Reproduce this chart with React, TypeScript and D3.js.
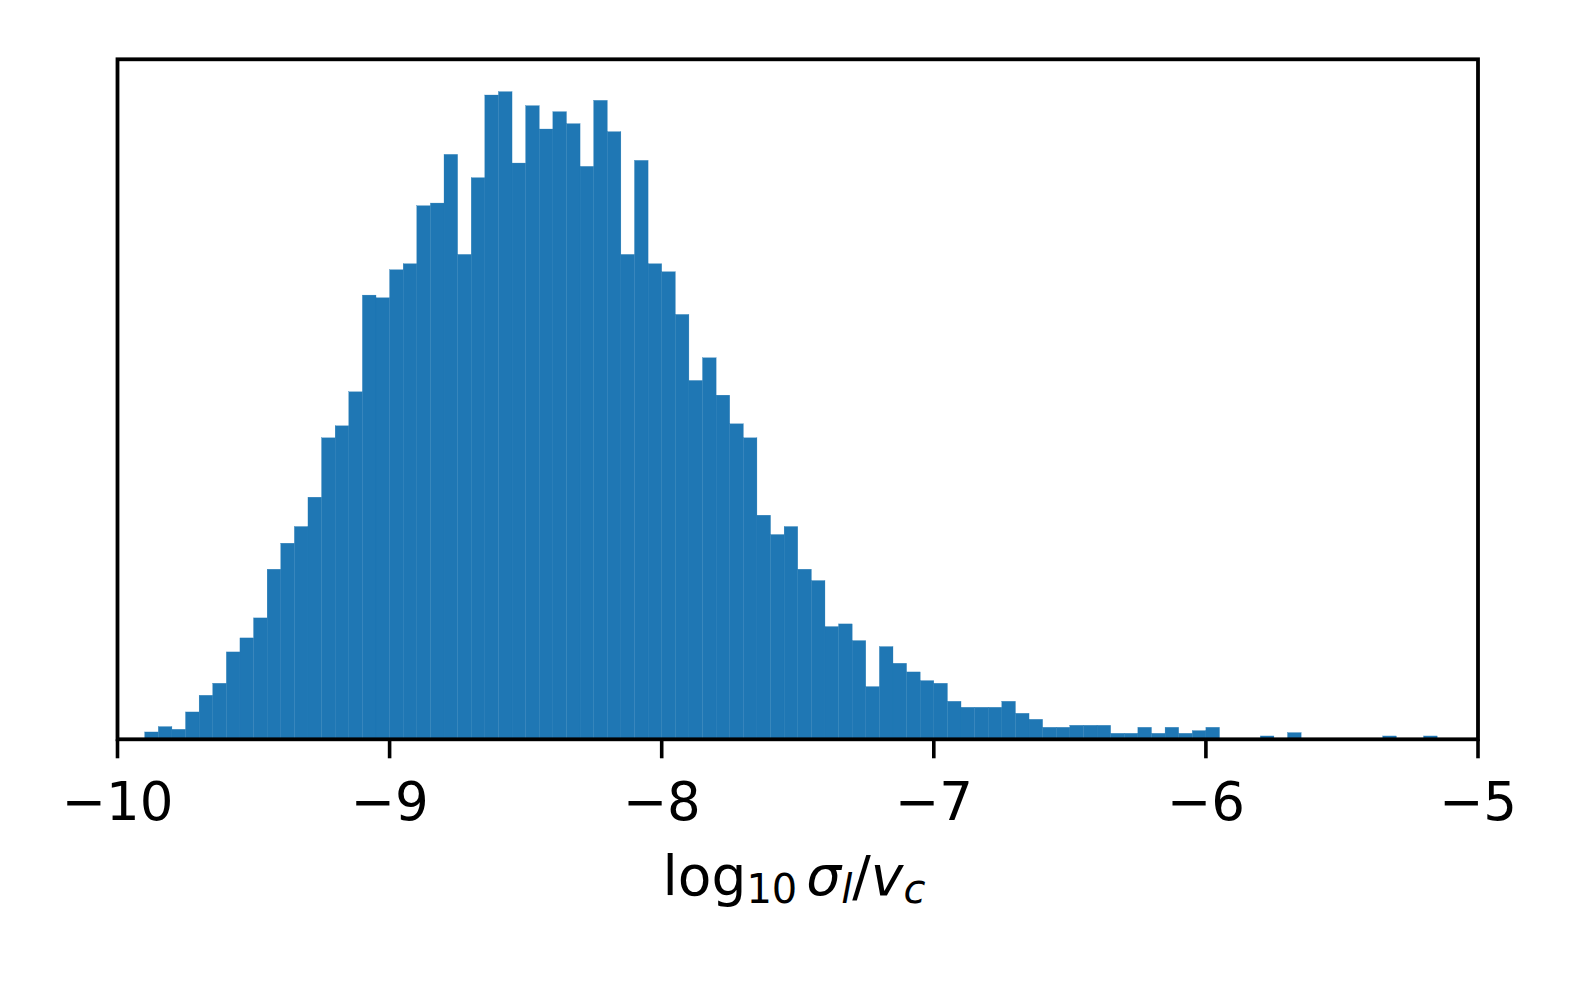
import React from "react";
import * as d3 from "d3";

// Histogram of log10 sigma_l / v_c : 100 bins from -10 to -5 (width 0.05)
const binStart = -10;
const binWidth = 0.05;
const counts: number[] = [
  1, 0, 11, 19, 15, 41, 66, 84, 131, 152,
  182, 255, 294, 319, 363, 452, 470, 521, 666, 662,
  704, 713, 800, 804, 877, 727, 842, 966, 971, 864,
  950, 915, 941, 923, 859, 958, 911, 727, 868, 713,
  701, 637, 538, 572, 516, 473, 452, 336, 307, 319,
  255, 238, 169, 173, 148, 79, 139, 114, 101, 88,
  84, 57, 48, 48, 48, 57, 39, 30, 18, 18,
  21, 21, 21, 9, 9, 18, 9, 18, 9, 13,
  18, 1, 0, 1, 5, 0, 10, 0, 1, 1,
  0, 1, 0, 5, 1, 1, 5, 1, 0, 1,
];
const xTicks: number[] = [-10, -9, -8, -7, -6, -5];
const xDomain: [number, number] = [-10, -5];

const W = 1578;
const H = 986;
const left = 117.5;
const right = 1478;
const top = 59.3;
const bottom = 739.3;

export default function App() {
  const x = d3.scaleLinear().domain(xDomain).range([left, right]);
  const maxC = d3.max(counts) ?? 1;
  const y = d3.scaleLinear().domain([0, maxC * 1.05]).range([bottom, top]);
  const bins = counts.map((c, i) => ({
    x0: binStart + i * binWidth,
    x1: binStart + (i + 1) * binWidth,
    c,
  }));
  const font = "'DejaVu Sans', sans-serif";
  const fmt = (v: number) => (v < 0 ? "\u2212" + Math.abs(v) : String(v));
  return (
    <svg
      width={W}
      height={H}
      style={{ position: "absolute", left: 0, top: 0, background: "#fff" }}
      fontFamily={font}
    >
      <rect x={0} y={0} width={W} height={H} fill="#fff" />
      <g>
        {bins.map((b, i) =>
          b.c > 0 ? (
            <rect
              key={i}
              x={x(b.x0)}
              y={y(b.c)}
              width={x(b.x1) - x(b.x0)}
              height={bottom - y(b.c)}
              fill="#1f77b4"
              stroke="#1f77b4"
              strokeWidth={0.3}
            />
          ) : null
        )}
      </g>
      <rect
        x={left}
        y={top}
        width={right - left}
        height={bottom - top}
        fill="none"
        stroke="#000"
        strokeWidth={3.8}
      />
      {xTicks.map((t) => (
        <g key={t}>
          <line x1={x(t)} x2={x(t)} y1={bottom} y2={bottom + 19} stroke="#000" strokeWidth={3.6} />
          <text x={x(t)} y={820} textAnchor="middle" fontSize={53} fill="#000">
            {fmt(t)}
          </text>
        </g>
      ))}
      <text x={794} y={895} textAnchor="middle" fontSize={55} fill="#000">
        <tspan>log</tspan>
        <tspan fontSize={40} dy={8}>10</tspan>
        <tspan fontStyle="italic" dx={9} dy={-8}>σ</tspan>
        <tspan fontStyle="italic" fontSize={40} dy={8}>l</tspan>
        <tspan dy={-8}>/</tspan>
        <tspan fontStyle="italic">v</tspan>
        <tspan fontStyle="italic" fontSize={40} dy={8}>c</tspan>
      </text>
    </svg>
  );
}
